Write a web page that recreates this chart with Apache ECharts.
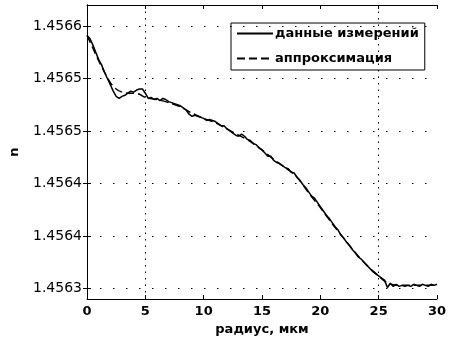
<!DOCTYPE html>
<html>
<head>
<meta charset="utf-8">
<script src="https://cdn.jsdelivr.net/npm/echarts@6/dist/echarts.min.js"></script>
<style>
  html, body { margin: 0; padding: 0; background: #fff; }
  #main { width: 450px; height: 341px; }
</style>
</head>
<body>
<div id="main"></div>
<script>
// радиус, мкм -> n
var measured = [
    [0, 1.456591], [0.25, 1.456588], [0.5, 1.456582], [0.75, 1.456575], [1, 1.456568],
    [1.25, 1.456563], [1.5, 1.456556], [1.75, 1.456550], [2, 1.456544], [2.25, 1.456538],
    [2.5, 1.456533], [2.75, 1.456531], [3, 1.456533], [3.25, 1.456534], [3.5, 1.456536],
    [3.75, 1.456538], [4, 1.456537], [4.25, 1.456539], [4.5, 1.456540], [4.75, 1.456540],
    [5, 1.456536], [5.25, 1.456531], [5.5, 1.456532], [5.75, 1.456530], [6, 1.456531],
    [6.25, 1.456529], [6.5, 1.456531], [6.75, 1.456530], [7, 1.456528], [7.25, 1.456527],
    [7.5, 1.456526], [7.75, 1.456525], [8, 1.456524], [8.25, 1.456522], [8.5, 1.456520],
    [8.75, 1.456516], [9, 1.456514], [9.25, 1.456515], [9.5, 1.456514], [9.75, 1.456513],
    [10, 1.456512], [10.25, 1.456510], [10.5, 1.456511], [10.75, 1.456510], [11, 1.456509],
    [11.25, 1.456507], [11.5, 1.456505], [11.75, 1.456505], [12, 1.456502], [12.25, 1.456500],
    [12.5, 1.456498], [12.75, 1.456496], [13, 1.456495], [13.25, 1.456497], [13.5, 1.456495],
    [13.75, 1.456492], [14, 1.456491], [14.25, 1.456488], [14.5, 1.456487], [14.75, 1.456484],
    [15, 1.456482], [15.25, 1.456479], [15.5, 1.456476], [15.75, 1.456476], [16, 1.456472],
    [16.25, 1.456470], [16.5, 1.456469], [16.75, 1.456467], [17, 1.456465], [17.25, 1.456464],
    [17.5, 1.456461], [17.75, 1.456460], [18, 1.456456], [18.25, 1.456453], [18.5, 1.456449],
    [18.75, 1.456446], [19, 1.456442], [19.25, 1.456438], [19.5, 1.456436], [19.75, 1.456432],
    [20, 1.456428], [20.25, 1.456424], [20.5, 1.456420], [20.75, 1.456417], [21, 1.456413],
    [21.25, 1.456409], [21.5, 1.456406], [21.75, 1.456401], [22, 1.456398], [22.25, 1.456394],
    [22.5, 1.456391], [22.75, 1.456387], [23, 1.456384], [23.25, 1.456380], [23.5, 1.456378],
    [23.75, 1.456375], [24, 1.456372], [24.25, 1.456369], [24.5, 1.456366], [24.75, 1.456364],
    [25, 1.456362], [25.25, 1.456360], [25.5, 1.456358], [25.75, 1.456351], [26, 1.456355],
    [26.25, 1.456352], [26.5, 1.456354], [26.75, 1.456352], [27, 1.456353], [27.25, 1.456352],
    [27.5, 1.456353], [27.75, 1.456352], [28, 1.456354], [28.25, 1.456353], [28.5, 1.456352],
    [28.75, 1.456354], [29, 1.456353], [29.25, 1.456352], [29.5, 1.456354], [29.75, 1.456353],
    [30, 1.456354]
];

var approx = [
    [0, 1.456591], [0.5, 1.456579], [1, 1.456567], [1.5, 1.456556], [2, 1.456546],
    [2.5, 1.456540], [3, 1.456537], [3.5, 1.456536], [4, 1.456536], [4.5, 1.456535],
    [5, 1.456532], [6, 1.456530], [7, 1.456527], [8, 1.456523], [9, 1.456517],
    [10, 1.456512], [11, 1.456508], [12, 1.456502], [13, 1.456496], [14, 1.456490],
    [15, 1.456482], [16, 1.456473], [17, 1.456465], [18, 1.456456], [19, 1.456441],
    [20, 1.456427], [21, 1.456412], [22, 1.456398], [23, 1.456384], [24, 1.456372],
    [25, 1.456362], [25.5, 1.456357], [26, 1.456354], [27, 1.456353], [28, 1.456353],
    [29, 1.456353], [30, 1.456353]
];

var yTicks = [1.45635, 1.4564, 1.45645, 1.4565, 1.45655, 1.4566];
var yTickLabels = ['1.4563', '1.4564', '1.4564', '1.4565', '1.4565', '1.4566'];
var xRange = [0, 30];
var xGridLines = [5, 25];

var font = 'DejaVu Sans';

function yLabel(v) {
    for (var i = 0; i < yTicks.length; i++) {
        if (Math.abs(yTicks[i] - v) < 1e-9) return yTickLabels[i];
    }
    return '';
}

// dotted grid: horizontal at every y tick, vertical only at 5 and 25
var gridMarks = [];
yTicks.forEach(function (v) {
    gridMarks.push([
        { coord: [xRange[0], v], lineStyle: { type: [1.5, 11.5] } },
        { coord: [xRange[1], v] }
    ]);
});
xGridLines.forEach(function (v) {
    gridMarks.push({ xAxis: v, lineStyle: { type: [1.5, 5] } });
});

var myChart = echarts.init(document.getElementById('main'));

var option = {
    backgroundColor: '#fff',
    animation: false,
    grid: { left: 79, right: 13, top: 5, bottom: 42 },
    legend: {
        left: 231,
        top: 23,
        orient: 'vertical',
        data: ['данные измерений', 'аппроксимация'],
        itemWidth: 36,
        itemHeight: 14,
        itemGap: 12,
        padding: [4, 6, 5, 5],
        borderColor: '#000',
        borderWidth: 1,
        backgroundColor: '#fff',
        itemStyle: { opacity: 0 },
        textStyle: { fontFamily: font, fontSize: 13, fontWeight: 'bold', color: '#000', padding: [0, 0, 0, -3] }
    },
    xAxis: [{
        type: 'value',
        min: xRange[0],
        max: xRange[1],
        interval: 5,
        name: 'радиус, мкм',
        nameLocation: 'middle',
        nameGap: 19,
        nameTextStyle: { fontFamily: font, fontSize: 13, fontWeight: 'bold', color: '#000' },
        axisLine: { lineStyle: { color: '#000', width: 1 } },
        axisTick: { inside: true, length: 4, lineStyle: { color: '#000' } },
        axisLabel: { fontFamily: font, fontSize: 13, fontWeight: 'bold', color: '#000', margin: 6 },
        splitLine: { show: false }
    }, {
        type: 'value',
        position: 'top',
        min: xRange[0],
        max: xRange[1],
        interval: 5,
        axisLine: { lineStyle: { color: '#000', width: 1 } },
        axisTick: { inside: true, length: 4, lineStyle: { color: '#000' } },
        axisLabel: { show: false },
        splitLine: { show: false }
    }],
    yAxis: [{
        type: 'value',
        min: 1.45634,
        max: 1.45662,
        name: 'n',
        nameLocation: 'middle',
        nameRotate: 90,
        nameGap: 66,
        nameTextStyle: { fontFamily: font, fontSize: 13, fontWeight: 'bold', color: '#000' },
        axisLine: { show: true, lineStyle: { color: '#000', width: 1 } },
        axisTick: { show: true, inside: true, length: 4, customValues: yTicks, lineStyle: { color: '#000' } },
        axisLabel: { customValues: yTicks, formatter: yLabel, fontFamily: font, fontSize: 14, color: '#000', margin: 5 },
        splitLine: { show: false }
    }, {
        type: 'value',
        position: 'right',
        min: 1.45634,
        max: 1.45662,
        axisLine: { show: true, lineStyle: { color: '#000', width: 1 } },
        axisTick: { show: true, inside: true, length: 4, customValues: yTicks, lineStyle: { color: '#000' } },
        axisLabel: { show: false },
        splitLine: { show: false }
    }],
    series: [{
        name: 'данные измерений',
        type: 'line',
        data: measured,
        symbol: 'none',
        lineStyle: { color: '#000', width: 1.5 },
        itemStyle: { color: '#000' },
        z: 3
    }, {
        name: 'аппроксимация',
        type: 'line',
        data: approx,
        symbol: 'none',
        smooth: 0.3,
        lineStyle: { color: '#000', width: 1.5, type: [8, 4] },
        itemStyle: { color: '#000' },
        markLine: {
            silent: true,
            symbol: 'none',
            label: { show: false },
            lineStyle: { color: '#000', width: 1 },
            data: gridMarks
        },
        z: 2
    }]
};

myChart.setOption(option);
</script>
</body>
</html>
